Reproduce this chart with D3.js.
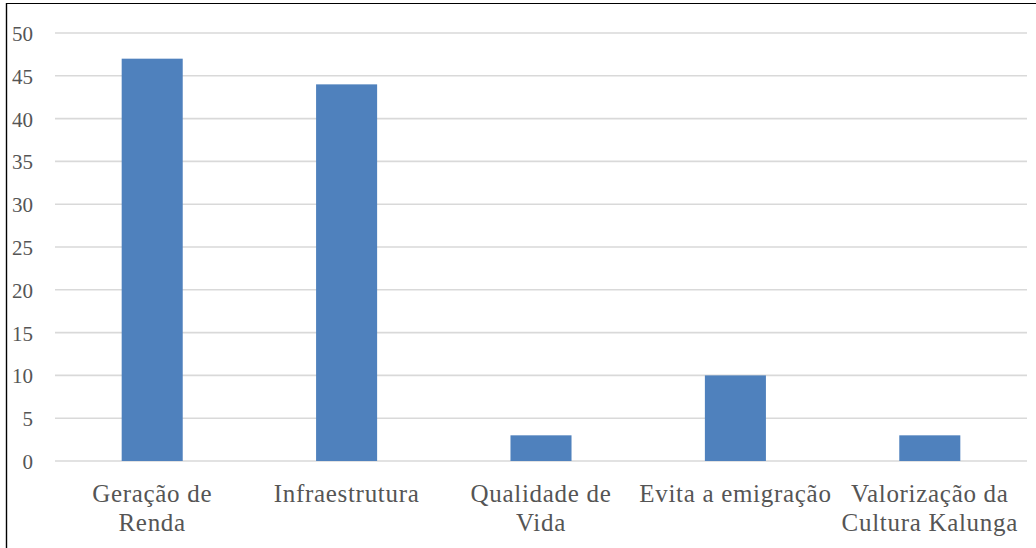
<!DOCTYPE html>
<html>
<head>
<meta charset="utf-8">
<script src="https://cdn.jsdelivr.net/npm/d3@7"></script>
<style>
  html, body { margin: 0; padding: 0; background: #fff; }
  svg { display: block; }
  text { font-family: "Liberation Serif", "Times New Roman", serif; fill: #555; }
</style>
</head>
<body>
<div id="chart"></div>
<script>
/* chart data */
var categories = [["Geração de", "Renda"], ["Infraestrutura"], ["Qualidade de", "Vida"], ["Evita a emigração"], ["Valorização da", "Cultura Kalunga"]];
var values = [47, 44, 3, 10, 3];
var yTicks = [0, 5, 10, 15, 20, 25, 30, 35, 40, 45, 50];

var width = 1036, height = 548;
var margin = { top: 33, right: 9, bottom: 87, left: 55 };

var svg = d3.select("#chart").append("svg")
    .attr("width", width)
    .attr("height", height);

// frame (left and top edge of the box)
svg.append("line").attr("x1", 6.5).attr("x2", 6.5).attr("y1", 3).attr("y2", height)
    .attr("stroke", "#000").attr("stroke-width", 1.4);
svg.append("line").attr("x1", 6).attr("x2", width).attr("y1", 3.5).attr("y2", 3.5)
    .attr("stroke", "#000").attr("stroke-width", 1.2);

var x = d3.scaleBand()
    .domain(d3.range(categories.length))
    .range([margin.left, width - margin.right])
    .paddingInner(0.686)
    .paddingOuter(0.343);

var y = d3.scaleLinear()
    .domain([0, 50])
    .range([height - margin.bottom, margin.top]);

// gridlines
svg.append("g").selectAll("line")
    .data(yTicks)
  .enter().append("line")
    .attr("x1", margin.left)
    .attr("x2", width - margin.right)
    .attr("y1", function(d) { return y(d); })
    .attr("y2", function(d) { return y(d); })
    .attr("stroke", "#d9d9d9")
    .attr("stroke-width", 1.6);

// y tick labels
svg.append("g").selectAll("text")
    .data(yTicks)
  .enter().append("text")
    .attr("x", 33)
    .attr("y", function(d) { return y(d) + 1; })
    .attr("text-anchor", "end")
    .attr("dominant-baseline", "central")
    .style("font-size", "21px")
    .text(function(d) { return d; });

// bars
svg.append("g").selectAll("rect")
    .data(values)
  .enter().append("rect")
    .attr("x", function(d, i) { return x(i); })
    .attr("width", x.bandwidth())
    .attr("y", function(d) { return y(d); })
    .attr("height", function(d) { return y(0) - y(d); })
    .attr("fill", "#4f81bd");

// category labels
var labels = svg.append("g").selectAll("text")
    .data(categories)
  .enter().append("text")
    .attr("x", function(d, i) { return x(i) + x.bandwidth() / 2; })
    .attr("y", 502)
    .attr("text-anchor", "middle")
    .style("font-size", "25px")
    .style("letter-spacing", "0.7px");

labels.selectAll("tspan")
    .data(function(d) { return d; })
  .enter().append("tspan")
    .attr("x", function() { return d3.select(this.parentNode).attr("x"); })
    .attr("dy", function(d, i) { return i === 0 ? 0 : 29; })
    .text(function(d) { return d; });
</script>
</body>
</html>
